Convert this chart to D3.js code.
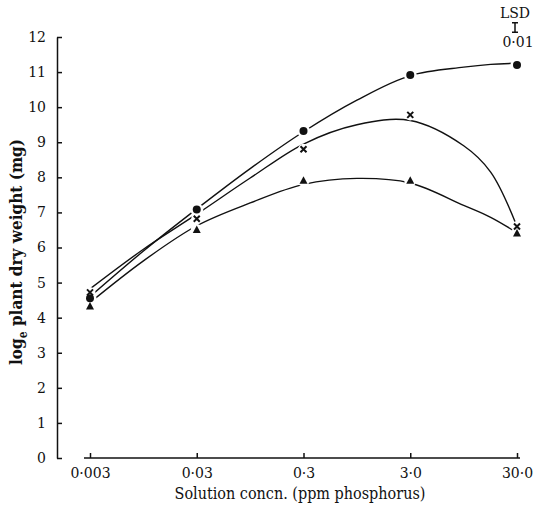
<!DOCTYPE html>
<html>
<head>
<meta charset="utf-8">
<script src="https://cdn.jsdelivr.net/npm/d3@7"></script>
<style>
  body { margin: 0; background: #fff; }
</style>
</head>
<body>
<div id="chart"></div>
<script>
// phosphorus concentrations (ppm) and their printed labels
var concs = [0.003, 0.03, 0.3, 3, 30];
var concLabels = ['0\u00b7003', '0\u00b703', '0\u00b73', '3\u00b70', '30\u00b70'];
var yTicks = [0, 1, 2, 3, 4, 5, 6, 7, 8, 9, 10, 11, 12];

// observed points, log_e dry weight (mg)
var circleVals = [4.55, 7.08, 9.32, 10.92, 11.2];
var crossVals = [4.72, 6.82, 8.8, 9.78, 6.6];
var triangleVals = [4.32, 6.5, 7.9, 7.9, 6.4];

// fitted curves
var curveConcs = [0.003, 0.0095, 0.03, 0.095, 0.3, 0.95, 3, 9.5, 17, 30];
var circleCurve = [4.6, 5.9, 7.1, 8.25, 9.3, 10.2, 10.9, 11.14, 11.22, 11.25];
var crossCurve = [4.82, 5.95, 6.95, 7.98, 8.95, 9.5, 9.62, 8.9, 8.15, 6.6];
var triangleCurve = [4.43, 5.62, 6.62, 7.27, 7.8, 7.97, 7.84, 7.2, 6.86, 6.42];

var lsdValue = 0.27;

var width = 535;
var height = 508;
var font = '"DejaVu Serif", "Liberation Serif", "Noto Serif", serif';
var titleFont = '"DejaVu Serif Condensed", "DejaVu Serif", serif';

var svg = d3.select('#chart')
            .append('svg')
            .attr('width', width)
            .attr('height', height)
            .style('font-family', font);

var x = d3.scaleLog()
          .domain([0.003, 30])
          .range([90, 517]);

var y = d3.scaleLinear()
          .domain([0, 12])
          .range([458, 37]);

// axes
var yAxis = svg.append('g')
               .attr('transform', 'translate(57,0)')
               .call(d3.axisLeft(y).tickValues(yTicks).tickSizeInner(-5).tickSizeOuter(0).tickPadding(11));

var xAxis = svg.append('g')
               .attr('transform', 'translate(0,458)')
               .call(d3.axisBottom(x).tickValues(concs).tickSizeInner(-5).tickSizeOuter(0).tickPadding(10)
                       .tickFormat((d, i) => concLabels[i]));

svg.selectAll('.domain, .tick line')
   .attr('stroke', '#111')
   .attr('stroke-width', 1.5);

svg.selectAll('.tick text')
   .style('font-family', font)
   .attr('font-size', 14)
   .attr('fill', '#111');

xAxis.select('.domain').attr('d', 'M84,0H' + (x(30) + 3));

// axis titles
svg.append('text')
   .attr('x', 300)
   .attr('y', 499)
   .attr('text-anchor', 'middle')
   .style('font-family', titleFont)
   .attr('font-size', 16)
   .attr('fill', '#111')
   .text('Solution concn. (ppm phosphorus)');

var yTitle = svg.append('text')
                .attr('transform', 'translate(22,' + 252 + ') rotate(-90)')
                .attr('text-anchor', 'middle')
                .style('font-family', titleFont)
                .attr('font-size', 17)
                .attr('font-weight', 'bold')
                .attr('fill', '#111');
yTitle.append('tspan').text('log');
yTitle.append('tspan').attr('font-size', 12).attr('dy', 5).text('e');
yTitle.append('tspan').attr('dy', -5).text(' plant dry weight (mg)');

// curves
var line = d3.line()
             .x(d => x(d[0]))
             .y(d => y(d[1]))
             .curve(d3.curveCatmullRom.alpha(0.5));

[circleCurve, crossCurve, triangleCurve].forEach(function(c) {
  svg.append('path')
     .datum(curveConcs.map((cc, i) => [cc, c[i]]))
     .attr('d', line)
     .attr('fill', 'none')
     .attr('stroke', '#111')
     .attr('stroke-width', 1.4);
});

// white gaps round the markers
function halo(vals, r) {
  svg.append('g').selectAll('circle')
     .data(vals)
     .enter()
     .append('circle')
     .attr('cx', (d, i) => x(concs[i]))
     .attr('cy', d => y(d))
     .attr('r', r)
     .attr('fill', '#fff');
}
halo(circleVals, 6.5);
halo(crossVals, 5.5);
halo(triangleVals, 6);

svg.append('g').selectAll('circle')
   .data(circleVals)
   .enter()
   .append('circle')
   .attr('cx', (d, i) => x(concs[i]))
   .attr('cy', d => y(d))
   .attr('r', 4)
   .attr('fill', '#111');

svg.append('g').selectAll('path')
   .data(crossVals)
   .enter()
   .append('path')
   .attr('transform', (d, i) => 'translate(' + x(concs[i]) + ',' + y(d) + ')')
   .attr('d', 'M-3,-3L3,3M-3,3L3,-3')
   .attr('stroke', '#111')
   .attr('stroke-width', 2);

svg.append('g').selectAll('path')
   .data(triangleVals)
   .enter()
   .append('path')
   .attr('transform', (d, i) => 'translate(' + x(concs[i]) + ',' + y(d) + ')')
   .attr('d', 'M0,-4.5L4,3L-4,3Z')
   .attr('fill', '#111');

// LSD bar
var lsdX = 515;
var lsdMid = 27.5;
var lsdHalf = (y(0) - y(lsdValue)) / 2;
svg.append('text')
   .attr('x', lsdX)
   .attr('y', 18)
   .attr('text-anchor', 'middle')
   .style('font-family', font)
   .attr('font-size', 14)
   .attr('fill', '#111')
   .text('LSD');
svg.append('path')
   .attr('d', 'M' + lsdX + ',' + (lsdMid - lsdHalf) + 'V' + (lsdMid + lsdHalf)
         + 'M' + (lsdX - 3) + ',' + (lsdMid - lsdHalf) + 'H' + (lsdX + 3)
         + 'M' + (lsdX - 3) + ',' + (lsdMid + lsdHalf) + 'H' + (lsdX + 3))
   .attr('stroke', '#111')
   .attr('stroke-width', 1.5);
svg.append('text')
   .attr('x', lsdX + 3)
   .attr('y', 47)
   .attr('text-anchor', 'middle')
   .style('font-family', font)
   .attr('font-size', 14)
   .attr('fill', '#111')
   .text('0\u00b701');
</script>
</body>
</html>
